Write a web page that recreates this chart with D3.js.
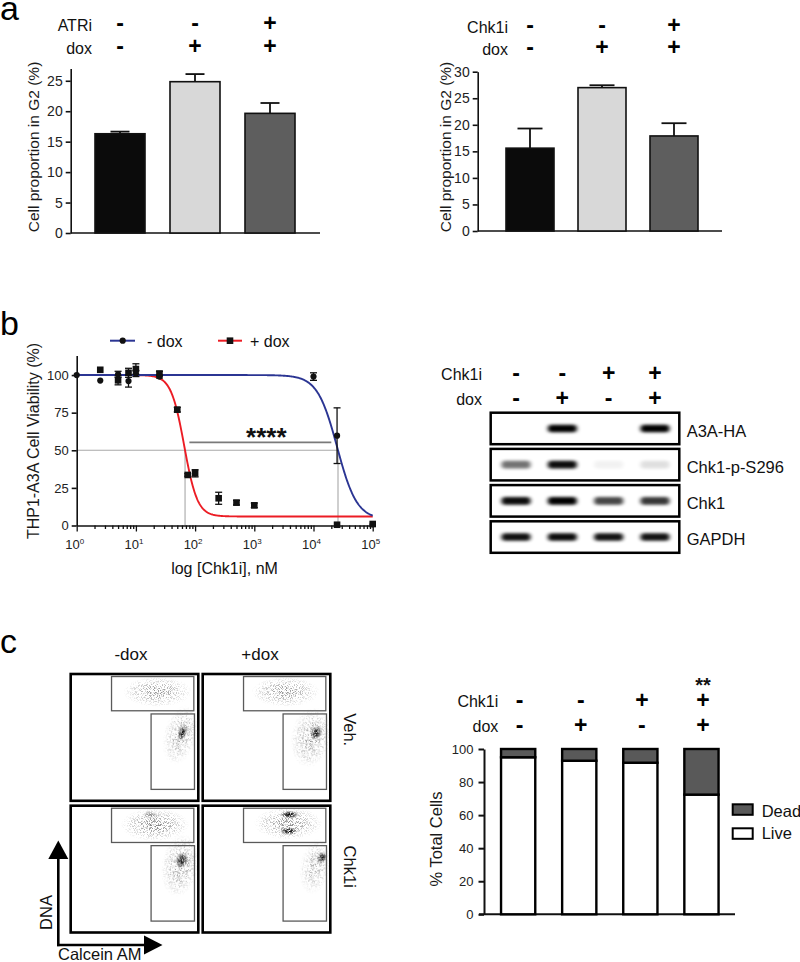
<!DOCTYPE html>
<html><head><meta charset="utf-8">
<script src="https://cdn.jsdelivr.net/npm/d3@7"></script>
<style>
body{margin:0;background:#fff}
svg{display:block;font-family:"Liberation Sans",Arial,Helvetica,sans-serif}
</style></head><body>
<svg id="fig" width="800" height="962"></svg>
<script>
// ================= DATA =================
// Panel a (left)
const aLeftRowLabels = ["ATRi", "dox"];
const aLeftATRi = ["-", "-", "+"];
const aLeftDox = ["-", "+", "+"];
const aLeftMeans = [16.3, 24.85, 19.65];
const aLeftErr = [0.35, 1.25, 1.7];
const aLeftTicks = [0, 5, 10, 15, 20, 25];
// Panel a (right)
const aRightRowLabels = ["Chk1i", "dox"];
const aRightChk1i = ["-", "-", "+"];
const aRightDox = ["-", "+", "+"];
const aRightMeans = [15.6, 27.0, 17.9];
const aRightErr = [3.7, 0.45, 2.4];
const aRightTicks = [0, 5, 10, 15, 20, 25, 30];
const aBarColors = ["#0b0b0b", "#d8d8d8", "#5e5e5e"];
const aYLabel = "Cell proportion in G2 (%)";

// Panel b (dose response)
const bConcMinus = [1, 2.5, 5, 7.5, 10, 25, 10000, 25000, 100000];
const bViabMinus = [100, 96.3, 100.5, 96, 101, 99, 99, 59.7, 0.8];
const bErrMinus = [0, 0, 2, 4, 2, 1, 2.5, 18.5, 0.5];
const bConcPlus = [2.5, 5, 7.5, 10, 25, 50, 75, 100, 250, 500, 1000, 25000, 100000];
const bViabPlus = [103.5, 96.5, 101.5, 104, 101, 77, 33.6, 34.7, 18.1, 15.2, 13.4, 0.5, 1];
const bErrPlus = [0, 3, 3, 3.5, 1.5, 1.5, 0.8, 2.4, 4, 1.5, 1.5, 0.5, 0.5];
const bFitMinus = [100, 4, 4.40, 2.6];   // top, bottom, logEC50, Hill slope
const bFitPlus = [100, 6, 1.816, 3.9];
const bYTicks = [0, 25, 50, 75, 100];
const bXTickExp = [0, 1, 2, 3, 4, 5];
const bSigBar = [80, 20000, 55.2];
const bSeriesNames = ["- dox", "+ dox"];
const bColors = ["#2b3593", "#ec1c24"];

// Panel b (western blot)
const blotChk1i = ["-", "-", "+", "+"];
const blotDox = ["-", "+", "-", "+"];
const blotProteins = ["A3A-HA", "Chk1-p-S296", "Chk1", "GAPDH"];
const blotA3A = [0, 1, 0, 1];
const blotPS296 = [0.55, 0.95, 0.05, 0.12];
const blotChk1 = [0.95, 1, 0.72, 0.78];
const blotGAPDH = [0.93, 0.95, 0.92, 0.92];

// Panel c (flow plots)
const flowCols = ["-dox", "+dox"];
const flowRows = ["Veh.", "Chk1i"];
const flowGateDead = [0.32, 0.71, 0.965, 0.98];   // x0, dna0, x1, dna1
const flowGateLive = [0.63, 0.09, 0.97, 0.685];
// [panel, calcein, DNA, rx, ry, angle, density, kind]
const flowClusters = [
  [0, 0.68, 0.86, 0.27, 0.12, 0, 0.8, "halo"],
  [0, 0.86, 0.52, 0.13, 0.24, 15, 0.8, "halo"],
  [0, 0.875, 0.535, 0.035, 0.07, 20, 1, "core"],
  [1, 0.65, 0.86, 0.27, 0.12, 0, 0.8, "halo"],
  [1, 0.85, 0.50, 0.16, 0.24, 10, 0.85, "halo"],
  [1, 0.89, 0.535, 0.045, 0.06, 20, 1, "core"],
  [2, 0.66, 0.85, 0.27, 0.13, 0, 0.9, "halo"],
  [2, 0.62, 0.93, 0.06, 0.035, 0, 0.35, "core"],
  [2, 0.86, 0.53, 0.15, 0.25, 10, 0.9, "halo"],
  [2, 0.87, 0.57, 0.05, 0.065, 20, 1, "core"],
  [3, 0.67, 0.86, 0.27, 0.13, 0, 0.85, "halo"],
  [3, 0.68, 0.93, 0.075, 0.032, 0, 1, "core"],
  [3, 0.675, 0.80, 0.075, 0.032, 0, 1, "core"],
  [3, 0.88, 0.52, 0.12, 0.22, 10, 0.7, "halo"],
  [3, 0.935, 0.59, 0.04, 0.05, 20, 1, "core"]
];

// Panel c (stacked bars)
const cChk1i = ["-", "-", "+", "+"];
const cDox = ["-", "+", "-", "+"];
const cLive = [95.0, 92.9, 91.7, 72.4];
const cDead = [5.0, 7.1, 8.3, 27.6];
const cSig = ["", "", "", "**"];
const cTicks = [0, 20, 40, 60, 80, 100];
const cLegend = ["Dead", "Live"];
const cColors = ["#595959", "#ffffff"];

// ================= DRAWING =================
const svg = d3.select("#fig");
const defs = svg.append("defs");

function txt(g, x, y, s, o = {}) {
  const t = g.append("text").attr("x", x).attr("y", y).text(s)
    .attr("font-size", o.size || 16).attr("fill", o.fill || "#111")
    .attr("text-anchor", o.anchor || "start");
  if (o.weight) t.attr("font-weight", o.weight);
  if (o.rotate != null) t.attr("transform", `rotate(${o.rotate},${x},${y})`);
  return t;
}
function styleAxis(g, fs) {
  g.selectAll("path,line").attr("stroke", "#111").attr("stroke-width", 1.6);
  g.selectAll("text").attr("font-size", fs).attr("fill", "#222")
    .attr("font-family", '"Liberation Sans",Arial,sans-serif');
}
function symbols(g, xs, y, arr) {
  arr.forEach((s, i) => txt(g, xs[i], y, s, { size: 23, weight: "bold", anchor: "middle", fill: "#000" }));
}

// panel letters
txt(svg, 0, 20, "a", { size: 34, fill: "#000" });
txt(svg, 0, 335, "b", { size: 34, fill: "#000" });
txt(svg, 0, 653, "c", { size: 34, fill: "#000" });

// ---------- Panel a ----------
function barPanel(cfg) {
  const g = svg.append("g");
  const x = d3.scaleBand().domain(d3.range(cfg.means.length))
    .range(cfg.xr).paddingInner(1 / 3).paddingOuter(1 / 6);
  const y = d3.scaleLinear().domain([0, cfg.ymax]).range([cfg.y0, cfg.ytop]);
  g.append("line").attr("x1", cfg.ax).attr("x2", cfg.axEnd).attr("y1", cfg.y0).attr("y2", cfg.y0)
    .attr("stroke", "#111").attr("stroke-width", 1.6);
  const ya = g.append("g").attr("transform", `translate(${cfg.ax},0)`)
    .call(d3.axisLeft(y).tickValues(cfg.ticks).tickSize(5).tickSizeOuter(0).tickPadding(3));
  styleAxis(ya, 14);
  cfg.means.forEach((m, i) => {
    const cx = x(i) + x.bandwidth() / 2;
    g.append("line").attr("x1", cx).attr("x2", cx).attr("y1", y(m)).attr("y2", y(m + cfg.err[i]))
      .attr("stroke", "#111").attr("stroke-width", 1.8);
    g.append("line").attr("x1", cx - cfg.cap / 2).attr("x2", cx + cfg.cap / 2)
      .attr("y1", y(m + cfg.err[i])).attr("y2", y(m + cfg.err[i]))
      .attr("stroke", "#111").attr("stroke-width", 1.8);
  });
  g.selectAll("rect.bar").data(cfg.means).join("rect")
    .attr("x", (d, i) => x(i)).attr("width", x.bandwidth())
    .attr("y", d => y(d)).attr("height", d => cfg.y0 - y(d))
    .attr("fill", (d, i) => aBarColors[i]).attr("stroke", "#111").attr("stroke-width", 1.6);
  const centers = cfg.means.map((d, i) => x(i) + x.bandwidth() / 2);
  txt(g, cfg.labelX, cfg.row1, cfg.rowLabels[0], { anchor: "end" });
  txt(g, cfg.labelX, cfg.row2, cfg.rowLabels[1], { anchor: "end" });
  symbols(g, centers, cfg.row1, cfg.sym1);
  symbols(g, centers, cfg.row2, cfg.sym2);
  txt(g, cfg.ylabX, 147, aYLabel, { size: 15.5, anchor: "middle", rotate: -90, fill: "#1a1a1a" });
}
barPanel({ means: aLeftMeans, err: aLeftErr, xr: [82.5, 307.5], ymax: 27, y0: 233, ytop: 68.6,
  ax: 70.7, axEnd: 320, ticks: aLeftTicks, cap: 19, rowLabels: aLeftRowLabels, sym1: aLeftATRi, sym2: aLeftDox,
  labelX: 92, row1: 31, row2: 54, ylabX: 38.5 });
barPanel({ means: aRightMeans, err: aRightErr, xr: [494, 710], ymax: 30, y0: 231, ytop: 71.7,
  ax: 477.7, axEnd: 722, ticks: aRightTicks, cap: 25, rowLabels: aRightRowLabels, sym1: aRightChk1i, sym2: aRightDox,
  labelX: 508, row1: 33, row2: 55, ylabX: 451 });

// ---------- Panel b: dose response ----------
(function () {
  const g = svg.append("g");
  const x = d3.scaleLog().domain([1, 1e5]).range([76.7, 372.7]);
  const y = d3.scaleLinear().domain([0, 113]).range([525.5, 355.5]);
  const fit = (p, lx) => p[1] + (p[0] - p[1]) / (1 + Math.pow(10, (lx - p[2]) * p[3]));
  const x50 = p => p[2] + Math.log10((p[0] - p[1]) / (50 - p[1]) - 1) / p[3];
  const lxM = x50(bFitMinus), lxP = x50(bFitPlus);
  const gray = "#a8a8a8";
  g.append("line").attr("x1", x(1)).attr("x2", x(Math.pow(10, lxM))).attr("y1", y(50)).attr("y2", y(50))
    .attr("stroke", gray).attr("stroke-width", 1.1);
  [lxP, lxM].forEach(l => g.append("line").attr("x1", x(Math.pow(10, l))).attr("x2", x(Math.pow(10, l)))
    .attr("y1", y(50)).attr("y2", y(0)).attr("stroke", gray).attr("stroke-width", 1.1));
  g.append("line").attr("x1", x(bSigBar[0])).attr("x2", x(bSigBar[1])).attr("y1", y(bSigBar[2])).attr("y2", y(bSigBar[2]))
    .attr("stroke", "#7a7a7a").attr("stroke-width", 1.8);
  txt(g, (x(bSigBar[0]) + x(bSigBar[1])) / 2 + 6, 446, "****", { size: 26, weight: "bold", anchor: "middle", fill: "#111" });
  const xa = g.append("g").attr("transform", `translate(0,${y(0)})`)
    .call(d3.axisBottom(x).tickValues(x.ticks()).tickFormat("").tickSize(3).tickSizeOuter(0));
  xa.selectAll(".tick line").attr("y2", d => (Math.abs(Math.log10(d) - Math.round(Math.log10(d))) < 1e-9 ? 6 : 3.5));
  styleAxis(xa, 13);
  xa.selectAll(".tick line").attr("stroke-width", 1.3);
  bXTickExp.forEach(e => {
    const t = g.append("text").attr("x", x(Math.pow(10, e)) - 2).attr("y", 549).attr("text-anchor", "middle")
      .attr("font-size", 13).attr("fill", "#222");
    t.append("tspan").text("10");
    t.append("tspan").text(e).attr("font-size", 8).attr("dy", -5);
  });
  const ya = g.append("g").attr("transform", `translate(${x(1)},0)`)
    .call(d3.axisLeft(y).tickValues(bYTicks).tickSize(5).tickSizeOuter(0).tickPadding(3));
  styleAxis(ya, 13);
  const lxs = d3.range(0, 5.0001, 0.01);
  const line = d3.line().x(d => x(Math.pow(10, d[0]))).y(d => y(d[1]));
  g.append("path").attr("d", line(lxs.map(l => [l, fit(bFitPlus, l)]))).attr("fill", "none")
    .attr("stroke", bColors[1]).attr("stroke-width", 1.9);
  g.append("path").attr("d", line(lxs.map(l => [l, fit(bFitMinus, l)]))).attr("fill", "none")
    .attr("stroke", bColors[0]).attr("stroke-width", 1.9);
  function pts(conc, vals, errs, shape) {
    conc.forEach((c, i) => {
      const px = x(c), e = errs[i];
      if (e > 0.6) {
        g.append("line").attr("x1", px).attr("x2", px).attr("y1", y(vals[i] - e)).attr("y2", y(vals[i] + e))
          .attr("stroke", "#111").attr("stroke-width", 1.3);
        [vals[i] - e, vals[i] + e].forEach(v => g.append("line").attr("x1", px - 3.5).attr("x2", px + 3.5)
          .attr("y1", y(v)).attr("y2", y(v)).attr("stroke", "#111").attr("stroke-width", 1.3));
      }
      if (shape === "circle") g.append("circle").attr("cx", px).attr("cy", y(vals[i])).attr("r", 3.1).attr("fill", "#111");
      else g.append("rect").attr("x", px - 3.3).attr("y", y(vals[i]) - 3.3).attr("width", 6.6).attr("height", 6.6).attr("fill", "#111");
    });
  }
  pts(bConcPlus, bViabPlus, bErrPlus, "rect");
  pts(bConcMinus, bViabMinus, bErrMinus, "circle");
  const ly = 340.7;
  g.append("line").attr("x1", 110).attr("x2", 135).attr("y1", ly).attr("y2", ly).attr("stroke", bColors[0]).attr("stroke-width", 2);
  g.append("circle").attr("cx", 122.7).attr("cy", ly).attr("r", 3.1).attr("fill", "#111");
  txt(g, 147, ly + 5.8, bSeriesNames[0], { size: 16 });
  g.append("line").attr("x1", 218).attr("x2", 242).attr("y1", ly).attr("y2", ly).attr("stroke", bColors[1]).attr("stroke-width", 2);
  g.append("rect").attr("x", 230 - 3.3).attr("y", ly - 3.3).attr("width", 6.6).attr("height", 6.6).attr("fill", "#111");
  txt(g, 250, ly + 5.8, bSeriesNames[1], { size: 16 });
  txt(g, 38.5, 441, "THP1-A3A Cell Viability (%)", { size: 16, anchor: "middle", rotate: -90, fill: "#1a1a1a" });
  txt(g, 224.5, 574, "log [Chk1i], nM", { size: 16, anchor: "middle" });
})();

// ---------- Panel b: western blot ----------
(function () {
  const g = svg.append("g");
  const lx = d3.scalePoint().domain(d3.range(4)).range([516, 655]);
  const blur = defs.append("filter").attr("id", "bandBlur").attr("x", "-50%").attr("y", "-100%").attr("width", "200%").attr("height", "300%");
  blur.append("feGaussianBlur").attr("stdDeviation", "2.2 1.4");
  txt(g, 482, 380, "Chk1i", { anchor: "end" });
  txt(g, 482, 405, "dox", { anchor: "end" });
  symbols(g, d3.range(4).map(lx), 381, blotChk1i);
  symbols(g, d3.range(4).map(lx), 405.5, blotDox);
  const rows = [blotA3A, blotPS296, blotChk1, blotGAPDH];
  const top0 = 412.7, step = 36.2, bh = 31.5;
  rows.forEach((vals, r) => {
    const ty = top0 + r * step;
    vals.forEach((v, i) => {
      if (v <= 0) return;
      g.append("rect").attr("x", lx(i) - 14.5).attr("y", ty + bh / 2 - 3.8).attr("width", 29).attr("height", 7.6)
        .attr("rx", 3.5).attr("fill", "#000").attr("opacity", v).attr("filter", "url(#bandBlur)");
    });
    g.append("rect").attr("x", 490.7).attr("y", ty).attr("width", 188.6).attr("height", bh)
      .attr("fill", "none").attr("stroke", "#000").attr("stroke-width", 2.5);
    txt(g, 686.7, ty + 24, blotProteins[r], { size: 16.5 });
  });
})();

// ---------- Panel c: flow plots ----------
(function () {
  const g = svg.append("g");
  function speckle(id, seed, k, off) {
    const f = defs.append("filter").attr("id", id).attr("x", "-20%").attr("y", "-20%")
      .attr("width", "140%").attr("height", "140%").attr("color-interpolation-filters", "sRGB");
    f.append("feTurbulence").attr("type", "fractalNoise").attr("baseFrequency", "1.3").attr("numOctaves", 1).attr("seed", seed).attr("result", "noise");
    f.append("feColorMatrix").attr("in", "noise").attr("type", "matrix")
      .attr("values", `0 0 0 0 0  0 0 0 0 0  0 0 0 0 0  ${k} 0 0 0 ${off}`).attr("result", "mask");
    f.append("feComposite").attr("in", "SourceGraphic").attr("in2", "mask").attr("operator", "in");
  }
  speckle("speckle", 7, 8, -4.0);
  speckle("speckleDense", 11, 6, -2.2);

  const gh = defs.append("radialGradient").attr("id", "gHalo");
  [[0, "#6a6a6a", 1], [0.35, "#858585", 0.85], [0.7, "#a0a0a0", 0.5], [1, "#b5b5b5", 0]].forEach(s =>
    gh.append("stop").attr("offset", s[0]).attr("stop-color", s[1]).attr("stop-opacity", s[2]));
  const gcore = defs.append("radialGradient").attr("id", "gCore");
  [[0, "#000", 1], [0.35, "#151515", 0.92], [0.7, "#444", 0.5], [1, "#666", 0]].forEach(s =>
    gcore.append("stop").attr("offset", s[0]).attr("stop-color", s[1]).attr("stop-opacity", s[2]));

  const W = 127.6, H = 126.8;
  const px0 = [70.7, 202.7], py0 = [674, 805.7];
  const x = d3.scaleLinear().domain([0, 1]).range([0, W]);
  const y = d3.scaleLinear().domain([0, 1]).range([H, 0]);
  for (let p = 0; p < 4; p++) {
    const col = p % 2, row = Math.floor(p / 2);
    const pg = g.append("g").attr("transform", `translate(${px0[col]},${py0[row]})`);
    defs.append("clipPath").attr("id", "fclip" + p).append("rect").attr("width", W).attr("height", H);
    const inner = pg.append("g").attr("clip-path", `url(#fclip${p})`);
    flowClusters.filter(c => c[0] === p).forEach(c => {
      const cx = x(c[1]), cy = y(c[2]);
      inner.append("ellipse").attr("cx", cx).attr("cy", cy).attr("rx", x(c[3])).attr("ry", H - y(c[4]))
        .attr("transform", `rotate(${c[5]},${cx},${cy})`)
        .attr("fill", c[7] === "core" ? "url(#gCore)" : "url(#gHalo)")
        .attr("opacity", c[6])
        .attr("filter", c[7] === "core" ? "url(#speckleDense)" : "url(#speckle)");
    });
    [flowGateDead, flowGateLive].forEach(gt => pg.append("rect")
      .attr("x", x(gt[0])).attr("y", y(gt[3])).attr("width", x(gt[2]) - x(gt[0])).attr("height", y(gt[1]) - y(gt[3]))
      .attr("fill", "none").attr("stroke", "#5a5a5a").attr("stroke-width", 1.3));
    pg.append("rect").attr("width", W).attr("height", H).attr("fill", "none").attr("stroke", "#000").attr("stroke-width", 2.6);
  }
  txt(g, 131, 660, flowCols[0], { size: 17, anchor: "middle" });
  txt(g, 260, 660, flowCols[1], { size: 17, anchor: "middle" });
  txt(g, 344, 729.7, flowRows[0], { size: 16.5, anchor: "middle", rotate: 90 });
  txt(g, 344, 866.7, flowRows[1], { size: 16.5, anchor: "middle", rotate: 90 });
  g.append("line").attr("x1", 58.3).attr("x2", 58.3).attr("y1", 946.2).attr("y2", 855).attr("stroke", "#000").attr("stroke-width", 2.6);
  g.append("path").attr("d", "M58.3,840.5 L48.3,859 L68.3,859 Z").attr("fill", "#000");
  g.append("line").attr("x1", 57).attr("x2", 148).attr("y1", 945).attr("y2", 945).attr("stroke", "#000").attr("stroke-width", 2.6);
  g.append("path").attr("d", "M162.5,945 L144,935.5 L144,954.5 Z").attr("fill", "#000");
  txt(g, 51.5, 912.5, "DNA", { size: 16.5, anchor: "middle", rotate: -90 });
  txt(g, 58, 960, "Calcein AM", { size: 16.5 });
})();

// ---------- Panel c: stacked bars ----------
(function () {
  const g = svg.append("g");
  const x = d3.scaleBand().domain(d3.range(4)).range([487.6, 732]).paddingInner(0.44).paddingOuter(0.22);
  const y = d3.scaleLinear().domain([0, 100]).range([914.3, 749]);
  g.append("line").attr("x1", 479).attr("x2", 735).attr("y1", y(0)).attr("y2", y(0)).attr("stroke", "#111").attr("stroke-width", 2);
  const ya = g.append("g").attr("transform", "translate(484,0)")
    .call(d3.axisLeft(y).tickValues(cTicks).tickSize(5.5).tickSizeOuter(0).tickPadding(5));
  styleAxis(ya, 13);
  ya.selectAll("path,line").attr("stroke-width", 2);
  g.selectAll("rect.live").data(cLive).join("rect").attr("class", "live")
    .attr("x", (d, i) => x(i)).attr("width", x.bandwidth()).attr("y", d => y(d)).attr("height", d => y(0) - y(d))
    .attr("fill", cColors[1]).attr("stroke", "#000").attr("stroke-width", 2.4);
  g.selectAll("rect.dead").data(cDead).join("rect").attr("class", "dead")
    .attr("x", (d, i) => x(i)).attr("width", x.bandwidth()).attr("y", (d, i) => y(cLive[i] + d)).attr("height", d => y(0) - y(d))
    .attr("fill", cColors[0]).attr("stroke", "#000").attr("stroke-width", 2.4);
  const centers = d3.range(4).map(i => x(i) + x.bandwidth() / 2);
  txt(g, 498.3, 706.7, "Chk1i", { anchor: "end" });
  txt(g, 498.3, 731.7, "dox", { anchor: "end" });
  symbols(g, centers.map(c => c + 1.5), 708, cChk1i);
  symbols(g, centers.map(c => c + 1.5), 732.5, cDox);
  cSig.forEach((s, i) => { if (s) txt(g, centers[i] + 1.5, 692, s, { size: 20, weight: "bold", anchor: "middle" }); });
  [[804.3, 0, 816.7], [828.3, 1, 839]].forEach(([ly, k, tb]) => {
    g.append("rect").attr("x", 732.7).attr("y", ly).attr("width", 20).attr("height", 10.5)
      .attr("fill", cColors[k]).attr("stroke", "#000").attr("stroke-width", 2);
    txt(g, 761.7, tb, cLegend[k], { size: 16.5 });
  });
  txt(g, 441.5, 839, "% Total Cells", { size: 16.5, anchor: "middle", rotate: -90, fill: "#1a1a1a" });
})();
</script>
</body></html>
